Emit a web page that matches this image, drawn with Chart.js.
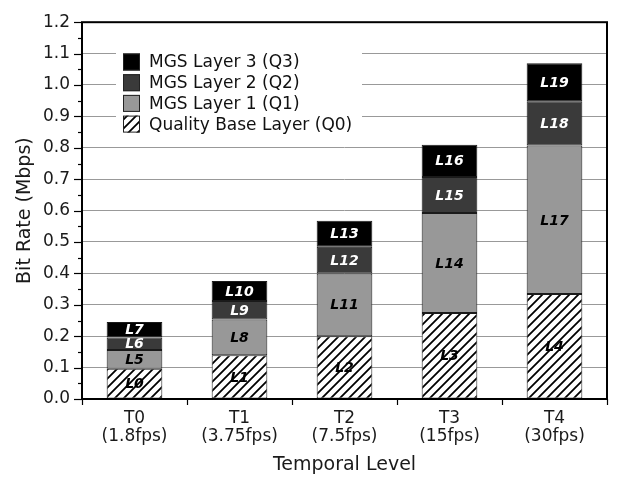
<!DOCTYPE html>
<html>
<head>
<meta charset="utf-8">
<script src="https://cdn.jsdelivr.net/npm/chart.js@4/dist/chart.umd.min.js"></script>
<style>
  html, body { margin: 0; padding: 0; background: #fff; }
  #wrap { width: 617px; height: 480px; }
</style>
</head>
<body>
<div id="wrap"><canvas id="rateChart" width="617" height="480"></canvas></div>
<script>
// Bit rate per temporal level, stacked by quality layer

// ==================== DATA ====================
const levels = [['T0', '(1.8fps)'], ['T1', '(3.75fps)'], ['T2', '(7.5fps)'], ['T3', '(15fps)'], ['T4', '(30fps)']];
const baseLayer = [0.096, 0.139, 0.200, 0.274, 0.334];   // Q0
const mgsLayer1 = [0.060, 0.114, 0.200, 0.318, 0.473];   // Q1
const mgsLayer2 = [0.040, 0.059, 0.085, 0.115, 0.141];   // Q2
const mgsLayer3 = [0.049, 0.064, 0.083, 0.103, 0.121];   // Q3
const baseNames = ['L0', 'L1', 'L2', 'L3', 'L4'];
const layer1Names = ['L5', 'L8', 'L11', 'L14', 'L17'];
const layer2Names = ['L6', 'L9', 'L12', 'L15', 'L18'];
const layer3Names = ['L7', 'L10', 'L13', 'L16', 'L19'];
const yTicks = [0, 0.1, 0.2, 0.3, 0.4, 0.5, 0.6, 0.7, 0.8, 0.9, 1.0, 1.1, 1.2];

const FONT = "'DejaVu Sans', Verdana, sans-serif";

// diagonal hatch for the base layer
function makeHatch() {
    const c = document.createElement('canvas');
    c.width = 9; c.height = 9;
    const g = c.getContext('2d');
    g.fillStyle = '#fff';
    g.fillRect(0, 0, 9, 9);
    g.strokeStyle = '#000';
    g.lineWidth = 1.8;
    g.beginPath();
    g.moveTo(-1, 10); g.lineTo(10, -1);
    g.moveTo(-2, 2); g.lineTo(2, -2);
    g.moveTo(7, 11); g.lineTo(11, 7);
    g.stroke();
    return g.createPattern(c, 'repeat');
}
const hatch = makeHatch();

const datasets = [
    { label: 'Quality Base Layer (Q0)', data: baseLayer, names: baseNames, backgroundColor: hatch, textColor: '#000' },
    { label: 'MGS Layer 1 (Q1)', data: mgsLayer1, names: layer1Names, backgroundColor: '#989898', textColor: '#000' },
    { label: 'MGS Layer 2 (Q2)', data: mgsLayer2, names: layer2Names, backgroundColor: '#3a3a3a', textColor: '#fff' },
    { label: 'MGS Layer 3 (Q3)', data: mgsLayer3, names: layer3Names, backgroundColor: '#000', textColor: '#fff' }
].map(d => Object.assign(d, {
    borderColor: '#1a1a1a', borderWidth: 1, borderSkipped: false,
    categoryPercentage: 1.0, barPercentage: 0.53
}));

// ==================== PLUGINS ====================
const frameAndTicks = {
    id: 'frameAndTicks',
    afterDraw(chart) {
        const { ctx, chartArea: a, scales } = chart;
        const y = scales.y;
        ctx.save();
        ctx.strokeStyle = '#000';
        ctx.lineWidth = 1.2;
        // y ticks: major every 0.1, minor at 0.05
        for (let i = 0; i <= 24; i++) {
            const py = Math.round(y.getPixelForValue(i * 0.05)) + 0.5;
            const len = i % 2 === 0 ? 8 : 4;
            ctx.beginPath();
            ctx.moveTo(a.left - len, py);
            ctx.lineTo(a.left, py);
            ctx.stroke();
        }
        ctx.lineWidth = 2;
        ctx.strokeRect(a.left, a.top, a.right - a.left, a.bottom - a.top);
        ctx.restore();
    }
};

const barNames = {
    id: 'barNames',
    afterDatasetsDraw(chart) {
        const { ctx } = chart;
        ctx.save();
        ctx.font = 'italic bold 14px ' + FONT;
        ctx.textAlign = 'center';
        ctx.textBaseline = 'middle';
        chart.data.datasets.forEach((ds, i) => {
            chart.getDatasetMeta(i).data.forEach((bar, j) => {
                ctx.fillStyle = ds.textColor;
                ctx.fillText(ds.names[j], bar.x, (bar.y + bar.base) / 2 + 1);
            });
        });
        ctx.restore();
    }
};

const insideLegend = {
    id: 'insideLegend',
    afterDraw(chart) {
        const { ctx } = chart;
        ctx.save();
        ctx.fillStyle = '#fff';
        ctx.fillRect(116, 47, 246, 92);
        ctx.font = '17px ' + FONT;
        ctx.textBaseline = 'middle';
        const items = chart.data.datasets.slice().reverse();
        items.forEach((ds, k) => {
            const cy = 62 + k * 20.7;
            ctx.fillStyle = ds.backgroundColor;
            ctx.fillRect(123, cy - 8.5, 17, 17);
            ctx.strokeStyle = '#222';
            ctx.lineWidth = 1;
            ctx.strokeRect(123.5, cy - 8, 16, 16);
            ctx.fillStyle = '#111';
            ctx.fillText(ds.label, 149, cy + 1);
        });
        ctx.restore();
    }
};

// ==================== CHART ====================
new Chart(document.getElementById('rateChart'), {
    type: 'bar',
    data: { labels: levels, datasets },
    options: {
        responsive: false,
        animation: false,
        layout: { padding: { left: 0, top: 14, right: 10, bottom: 0 } },
        plugins: { legend: { display: false }, tooltip: { enabled: false } },
        scales: {
            x: {
                stacked: true,
                afterFit: s => { s.height = 81; },
                border: { display: false },
                grid: { offset: true, drawOnChartArea: false, drawTicks: true, tickLength: 6, tickColor: '#000', tickWidth: 1.2 },
                ticks: { color: '#1a1a1a', font: { family: FONT, size: 17, lineHeight: 1.08 }, padding: 4, maxRotation: 0 },
                title: { display: true, text: 'Temporal Level', color: '#1a1a1a', font: { family: FONT, size: 19 }, padding: { top: 4 } }
            },
            y: {
                stacked: true,
                min: 0, max: 1.2,
                afterFit: s => { s.width = 82; },
                afterBuildTicks: s => { s.ticks = yTicks.map(v => ({ value: v })); },
                border: { display: false },
                grid: {
                    drawTicks: false,
                    lineWidth: 1,
                    borderDash: [1, 2],
                    color: c => (c.tick && c.tick.value > 0.01 && c.tick.value < 1.19) ? '#999999' : 'rgba(0,0,0,0)'
                },
                ticks: {
                    color: '#1a1a1a', font: { family: FONT, size: 17 }, padding: 12,
                    callback: v => Number(v).toFixed(1)
                },
                title: { display: true, text: 'Bit Rate (Mbps)', color: '#1a1a1a', font: { family: FONT, size: 19 }, padding: { top: 14, bottom: 0 } }
            }
        }
    },
    plugins: [frameAndTicks, barNames, insideLegend]
});
</script>
</body>
</html>
